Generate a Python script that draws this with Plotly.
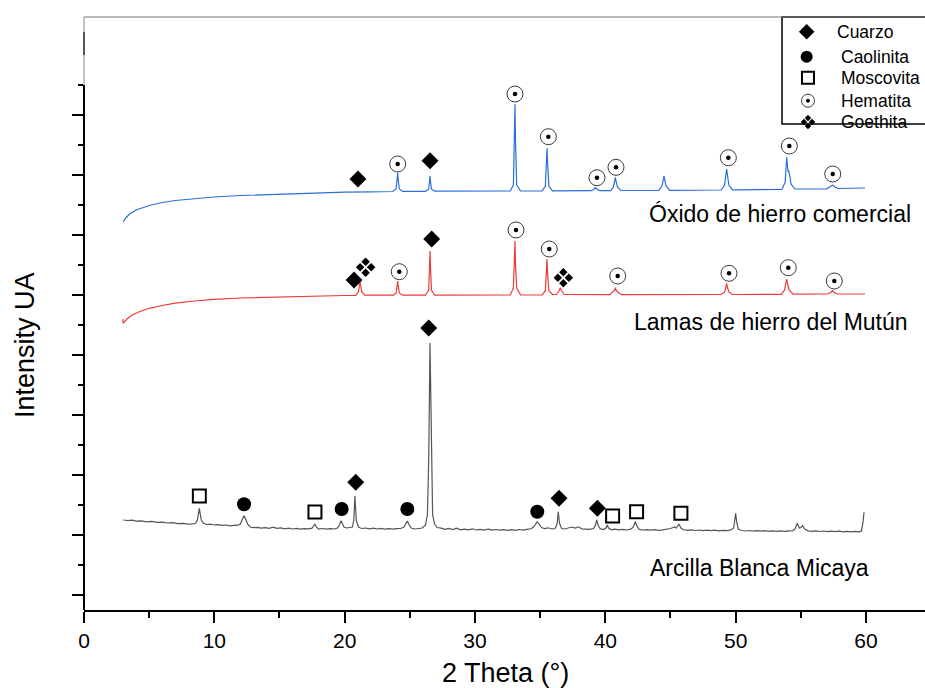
import plotly.graph_objects as go

# ---------------- data (2θ in degrees, intensity in arbitrary units) ----------------
blue_2theta = [3.0, 3.2, 3.5, 4.0, 5.0, 6.0, 7.0, 8.5, 10, 12, 14, 16, 18, 20, 22,
               23.7, 23.95, 24.03, 24.07, 24.11, 24.2, 24.45,
               26.2, 26.45, 26.52, 26.55, 26.58, 26.66, 26.9,
               32.7, 32.95, 33.03, 33.07, 33.11, 33.2, 33.5,
               35.15, 35.4, 35.49, 35.53, 35.57, 35.67, 35.95,
               38.9, 39.1, 39.24, 39.38, 39.6,
               40.4, 40.62, 40.72, 40.77, 40.82, 40.93, 41.2,
               44.1, 44.35, 44.45, 44.5, 44.55, 44.66, 44.95,
               48.9, 49.15, 49.26, 49.31, 49.36, 49.48, 49.75,
               53.55, 53.8, 53.88, 53.92, 53.97, 54.03, 54.07, 54.13, 54.25, 54.55,
               57.0, 57.28, 57.42, 57.56, 57.85, 59.93]
blue_int = [388, 392, 396, 400, 404.5, 407.5, 409.5, 411.5, 413, 414.5, 415.5, 416.5, 417.2, 417.8, 418.2,
            418.5, 421, 430, 437.3, 430, 421, 418.6,
            418.7, 421, 429, 434, 429, 421, 418.8,
            419, 425, 470, 505.7, 470, 425, 419,
            419.2, 424, 448, 461.7, 448, 424, 419.2,
            419.3, 420.5, 422.3, 420.5, 419.4,
            419.4, 423, 429, 432.7, 429, 423, 419.5,
            419.6, 424, 431, 434, 431, 424, 419.7,
            420, 425, 436, 441, 436, 425, 420.2,
            420.5, 428, 441, 452.7, 445, 438, 439.3, 436, 426, 421,
            421.2, 423.5, 425, 423.5, 421.5, 422]

red_2theta = [2.98, 3.0, 3.3, 3.7, 4.3, 5.0, 6.0, 7.0, 8.5, 10, 12, 14, 16, 18, 20,
              20.85, 21.05, 21.14, 21.18, 21.22, 21.32, 21.55,
              23.75, 23.95, 24.03, 24.07, 24.11, 24.2, 24.45,
              26.2, 26.45, 26.52, 26.55, 26.58, 26.66, 26.9,
              32.7, 32.95, 33.03, 33.07, 33.11, 33.2, 33.5,
              35.15, 35.4, 35.49, 35.53, 35.57, 35.67, 35.95,
              36.25, 36.45, 36.55, 36.65, 36.85,
              40.35, 40.6, 40.72, 40.77, 40.82, 40.95, 41.25,
              48.9, 49.15, 49.26, 49.31, 49.36, 49.48, 49.75,
              53.5, 53.75, 53.87, 53.92, 53.97, 54.1, 54.4,
              57.05, 57.3, 57.42, 57.55, 57.8, 59.93]
red_int = [291, 286.7, 291, 295, 298.5, 301.7, 304.5, 306.8, 309, 310.7, 312, 312.8, 313.5, 314, 314.5,
           314.7, 318, 325, 328.3, 325, 318, 314.8,
           314.8, 317, 324, 329, 324, 317, 314.8,
           314.8, 320, 345, 359, 345, 320, 314.8,
           315, 322, 345, 369, 345, 322, 315,
           315, 319, 337, 351, 337, 319, 315.5,
           315.5, 319, 322.3, 319, 315.5,
           315.3, 318, 320, 322.3, 320, 318, 315.3,
           315.5, 318, 323, 326.7, 323, 318, 315.5,
           315.7, 320, 327, 331, 327, 320, 315.8,
           316, 317.5, 319.3, 317.5, 316, 316]

grey_2theta = [3.0, 3.3, 3.7, 4.0, 4.4, 4.8, 5.2, 5.6, 6.0, 6.4, 6.8, 7.2, 7.6, 8.0, 8.3, 8.55,
               8.7, 8.8, 8.85, 8.92, 9.0, 9.15, 9.4, 9.7, 10.0, 10.3, 10.6, 10.9, 11.2, 11.5, 11.8,
               12.0, 12.15, 12.28, 12.4, 12.55, 12.75, 13.0, 13.3, 13.6, 13.9, 14.2, 14.5, 14.8, 15.1,
               15.4, 15.7, 16.0, 16.3, 16.6, 16.9, 17.2, 17.5,
               17.62, 17.72, 17.82, 18.0, 18.3, 18.6, 18.9, 19.2, 19.45,
               19.6, 19.72, 19.82, 19.95, 20.15, 20.4, 20.6,
               20.7, 20.76, 20.79, 20.83, 20.9, 21.05, 21.3, 21.6, 21.9, 22.2, 22.5, 22.8, 23.1, 23.4,
               23.7, 24.0, 24.3, 24.55,
               24.7, 24.81, 24.92, 25.1, 25.4, 25.7, 25.95, 26.2,
               26.35, 26.45, 26.52, 26.55, 26.58, 26.65, 26.75, 26.9, 27.1, 27.4, 27.7, 28.0, 28.3,
               28.6, 28.9, 29.2, 29.5, 29.8, 30.1, 30.4, 30.7, 31.0, 31.3, 31.6, 31.9, 32.2, 32.5,
               32.8, 33.1, 33.4, 33.7, 34.0, 34.3,
               34.5, 34.65, 34.78, 34.92, 35.1, 35.35, 35.6, 35.9, 36.15,
               36.3, 36.39, 36.48, 36.65, 36.9, 37.15, 37.4, 37.7, 37.95, 38.2, 38.5, 38.8, 39.1,
               39.25, 39.34, 39.44, 39.6, 39.85, 40.05, 40.15, 40.25, 40.45, 40.75, 41.05, 41.35,
               41.65, 41.95, 42.15,
               42.3, 42.42, 42.6, 42.9, 43.2, 43.5, 43.8, 44.1, 44.4, 44.7, 45.0, 45.2, 45.3, 45.45,
               45.65, 45.8, 46.0, 46.3, 46.6, 46.9, 47.2, 47.5, 47.8, 48.1, 48.4, 48.7, 49.0, 49.3,
               49.6, 49.85,
               49.93, 50.0, 50.08, 50.2, 50.45, 50.75, 51.05, 51.35, 51.65, 51.95, 52.25, 52.55,
               52.85, 53.15, 53.45, 53.75, 54.05, 54.35, 54.55,
               54.73, 54.88, 55.0, 55.14, 55.3, 55.55, 55.85, 56.15, 56.45, 56.75, 57.05, 57.35,
               57.65, 57.95, 58.25, 58.55, 58.85, 59.15, 59.45, 59.65, 59.78, 59.85]
grey_int = [90, 89.5, 89.8, 88.9, 89.2, 88.2, 88.6, 87.6, 87.9, 87.0, 87.3, 86.4, 86.7, 85.8, 86.1, 86.5,
            90, 97, 101.7, 96, 90, 87, 85.5, 85.9, 85.0, 85.4, 84.6, 85.0, 84.2, 84.6, 84.8,
            86, 90, 94.3, 91, 86, 83, 82.3, 82.7, 81.8, 82.4, 81.6, 82.8, 81.7, 82.1,
            81.2, 81.8, 81.0, 81.6, 80.9, 81.4, 81.1, 81.8,
            84, 86, 83, 81.0, 81.5, 80.8, 81.3, 81.0, 82,
            85, 89.3, 86, 83, 82, 82.3, 83,
            90, 105, 114, 104, 89, 83, 81.5, 82.0, 81.2, 81.8, 81.0, 81.6, 80.9, 81.4,
            80.8, 81.3, 81.5, 83,
            86, 89, 86, 82, 81.0, 81.4, 82, 85,
            95, 150, 240, 267, 240, 150, 95, 86, 82.5, 81.8, 80.6, 81.6, 80.4,
            81.9, 80.2, 80.9, 80.1, 81.2, 80.0, 80.6, 79.9, 80.8, 79.8, 80.5, 79.9, 80.3, 79.7,
            80.4, 79.6, 80.5, 79.9, 80.6, 81.2,
            83, 86, 88.3, 86, 82.5, 81.3, 82.2, 81.0, 81.5,
            86, 98.3, 87, 81.5, 81.0, 82.3, 83.0, 82.0, 83.2, 81.2, 80.9, 80.6, 81.5,
            85, 90, 85, 81.3, 80.5, 82, 85, 82, 80.2, 80.8, 80.1, 80.6,
            80.0, 80.9, 83,
            88.3, 84, 80.6, 80.0, 80.4, 79.8, 80.3, 79.7, 80.2, 80.6, 81.5, 82.5, 83, 82,
            86, 82, 80.2, 79.6, 80.1, 79.5, 80.0, 79.4, 79.9, 79.3, 79.8, 79.2, 79.7, 79.3,
            79.8, 82,
            88, 96.7, 88, 81, 79.5, 79.0, 79.5, 78.9, 79.4, 78.8, 79.3, 78.7,
            79.2, 78.6, 79.1, 78.7, 79.2, 79.0, 81,
            86.7, 82, 82.5, 84.3, 81, 79.2, 78.6, 79.1, 78.5, 79.0, 78.4, 78.9,
            78.3, 78.8, 78.2, 78.7, 78.1, 78.6, 78.2, 78.8, 88, 97.7]

assert len(blue_2theta) == len(blue_int)
assert len(red_2theta) == len(red_int)
assert len(grey_2theta) == len(grey_int)

# phase identification markers (2θ, height)
cuarzo_2theta = [21.02, 26.55, 20.72, 26.68, 20.85, 26.45, 36.45, 39.39]
cuarzo_y = [431, 449.3, 330, 371, 127.7, 282, 111.7, 101.7]
caolinita_2theta = [12.28, 19.77, 24.81, 34.78]
caolinita_y = [105.7, 101, 101, 98.3]
moscovita_2theta = [8.85, 17.72, 40.56, 42.4, 45.8]
moscovita_y = [114, 98, 94, 98.3, 96.7]
hematita_2theta = [24.07, 33.07, 35.63, 39.36, 40.82, 49.44, 54.12, 57.45,
                   24.19, 33.15, 35.7, 40.95, 49.49, 54.04, 57.57]
hematita_y = [446, 516, 473.3, 432.3, 442.7, 452.3, 464, 436,
              338.3, 380, 361, 334, 336.7, 342.3, 329]
goethita_2theta = [21.61, 36.78]
goethita_y = [342.7, 332.3]

series_names = ["Óxido de hierro comercial", "Lamas de hierro del Mutún", "Arcilla Blanca Micaya"]
legend_names = ["Cuarzo", "Caolinita", "Moscovita", "Hematita", "Goethita"]
x_ticks = [0, 10, 20, 30, 40, 50, 60]

# ---------------- figure ----------------
ARIAL = "Liberation Sans, Arial, sans-serif"
PX_PER_DEG = 841 / 64.53  # horizontal scale, for building the 4-diamond goethite glyph


def cluster(xs, ys, off_px):
    """Expand each center into the 4 small diamonds of the goethite glyph."""
    cx, cy = [], []
    d = off_px / PX_PER_DEG
    for x, y in zip(xs, ys):
        cx += [x - d, x + d, x, x]
        cy += [y, y, y + off_px, y - off_px]
    return cx, cy


fig = go.Figure()
fig.add_trace(go.Scatter(x=grey_2theta, y=grey_int, mode="lines",
                         line=dict(color="#555555", width=1.2), name=series_names[2]))
fig.add_trace(go.Scatter(x=red_2theta, y=red_int, mode="lines",
                         line=dict(color="#eb3b3b", width=1.2), name=series_names[1]))
fig.add_trace(go.Scatter(x=blue_2theta, y=blue_int, mode="lines",
                         line=dict(color="#2a6fdb", width=1.2), name=series_names[0]))

fig.add_trace(go.Scatter(x=cuarzo_2theta, y=cuarzo_y, mode="markers",
                         marker=dict(symbol="diamond", size=13, color="black",
                                     line=dict(width=0)), name=legend_names[0]))
fig.add_trace(go.Scatter(x=caolinita_2theta, y=caolinita_y, mode="markers",
                         marker=dict(symbol="circle", size=14, color="black",
                                     line=dict(width=0)), name=legend_names[1]))
fig.add_trace(go.Scatter(x=moscovita_2theta, y=moscovita_y, mode="markers",
                         marker=dict(symbol="square-open", size=13, color="black",
                                     line=dict(width=2, color="black")), name=legend_names[2]))
fig.add_trace(go.Scatter(x=hematita_2theta, y=hematita_y, mode="markers",
                         marker=dict(symbol="circle-open", size=16, color="#3a3a3a",
                                     line=dict(width=1, color="#3a3a3a")), name=legend_names[3]))
fig.add_trace(go.Scatter(x=hematita_2theta, y=hematita_y, mode="markers",
                         marker=dict(symbol="circle", size=4.5, color="black"),
                         showlegend=False, hoverinfo="skip"))
gx, gy = cluster(goethita_2theta, goethita_y, 5.5)
fig.add_trace(go.Scatter(x=gx, y=gy, mode="markers",
                         marker=dict(symbol="diamond", size=6.5, color="black", line=dict(width=0)),
                         name=legend_names[4]))

# ---------------- manual legend (pixel-derived layout positions) ----------------
lg_sym_x = [55.45, 55.45, 55.55, 55.55, 55.55]
lg_sym_y = [578.3, 553.3, 532.3, 509.3, 488]
fig.add_trace(go.Scatter(x=[lg_sym_x[0]], y=[lg_sym_y[0]], mode="markers",
                         marker=dict(symbol="diamond", size=12, color="black"),
                         showlegend=False, hoverinfo="skip"))
fig.add_trace(go.Scatter(x=[lg_sym_x[1]], y=[lg_sym_y[1]], mode="markers",
                         marker=dict(symbol="circle", size=12, color="black"),
                         showlegend=False, hoverinfo="skip"))
fig.add_trace(go.Scatter(x=[lg_sym_x[2]], y=[lg_sym_y[2]], mode="markers",
                         marker=dict(symbol="square-open", size=12, color="black",
                                     line=dict(width=2, color="black")),
                         showlegend=False, hoverinfo="skip"))
fig.add_trace(go.Scatter(x=[lg_sym_x[3]], y=[lg_sym_y[3]], mode="markers",
                         marker=dict(symbol="circle-open", size=13, color="#3a3a3a",
                                     line=dict(width=1, color="#3a3a3a")),
                         showlegend=False, hoverinfo="skip"))
fig.add_trace(go.Scatter(x=[lg_sym_x[3]], y=[lg_sym_y[3]], mode="markers",
                         marker=dict(symbol="circle", size=4, color="black"),
                         showlegend=False, hoverinfo="skip"))
lgx, lgy = cluster([lg_sym_x[4]], [lg_sym_y[4]], 4)
fig.add_trace(go.Scatter(x=lgx, y=lgy, mode="markers",
                         marker=dict(symbol="diamond", size=5, color="black", line=dict(width=0)),
                         showlegend=False, hoverinfo="skip"))

lg_text_x = [57.62, 57.9, 57.95, 57.95, 57.95]
annotations = []
for name, tx, ty in zip(legend_names, lg_text_x, lg_sym_y):
    annotations.append(dict(x=tx, y=ty, xref="x", yref="y", text=name, showarrow=False,
                            xanchor="left", yanchor="middle",
                            font=dict(family=ARIAL, size=17.5, color="black")))

label_x = [43.2, 42.05, 43.27]
label_y = [396, 288, 42]
for name, tx, ty in zip(series_names, label_x, label_y):
    annotations.append(dict(x=tx, y=ty, xref="x", yref="y", text=name, showarrow=False,
                            xanchor="left", yanchor="middle",
                            font=dict(family=ARIAL, size=23, color="black")))

annotations.append(dict(x=0.5006, y=-0.107, xref="paper", yref="paper", text="2 Theta (°)",
                        showarrow=False, xanchor="center", yanchor="middle",
                        font=dict(family=ARIAL, size=27, color="black")))
annotations.append(dict(x=-0.0702, y=0.4469, xref="paper", yref="paper", text="Intensity UA",
                        showarrow=False, xanchor="center", yanchor="middle", textangle=-90,
                        font=dict(family=ARIAL, size=27, color="black")))

shapes = [
    # legend frame (right side runs off the picture)
    dict(type="rect", xref="paper", yref="paper", x0=0.830, x1=1.3, y0=0.8196, y1=1.0,
         line=dict(color="black", width=1.5), layer="below"),
    # top frame line
    dict(type="line", xref="paper", yref="paper", x0=0, x1=1, y0=1, y1=1,
         line=dict(color="#777777", width=1)),
    # left axis line: thick lower part, thin upper part
    dict(type="line", xref="paper", yref="paper", x0=0, x1=0, y0=0, y1=525 / 593,
         line=dict(color="black", width=2)),
    dict(type="line", xref="paper", yref="paper", x0=0, x1=0, y0=525 / 593, y1=1,
         line=dict(color="#888888", width=1)),
    dict(type="line", xref="paper", yref="paper", x0=0, x1=0, y0=555 / 593, y1=578 / 593,
         line=dict(color="#333333", width=1.5)),
]

fig.update_layout(
    width=925, height=688,
    margin=dict(l=84, r=0, t=17, b=78),
    plot_bgcolor="white", paper_bgcolor="white",
    showlegend=False,
    annotations=annotations,
    shapes=shapes,
    xaxis=dict(range=[0, 64.53], showgrid=False, zeroline=False,
               showline=True, linecolor="black", linewidth=2,
               ticks="outside", tickvals=x_ticks, ticklen=11, tickwidth=2, tickcolor="black",
               tickfont=dict(family=ARIAL, size=21, color="black"),
               minor=dict(tickvals=[5, 15, 25, 35, 45, 55], ticks="outside",
                          ticklen=6, tickwidth=2, tickcolor="black")),
    yaxis=dict(range=[0, 593], showgrid=False, zeroline=False, showline=False,
               ticks="outside", tickvals=[15 + 60 * k for k in range(9)],
               ticklen=11, tickwidth=2, tickcolor="black", showticklabels=False,
               minor=dict(tickvals=[45 + 60 * k for k in range(9)], ticks="outside",
                          ticklen=5, tickwidth=2, tickcolor="black")),
)

fig.write_html("out.html", config={"displayModeBar": False},
               post_script="document.body.style.margin='0';")
